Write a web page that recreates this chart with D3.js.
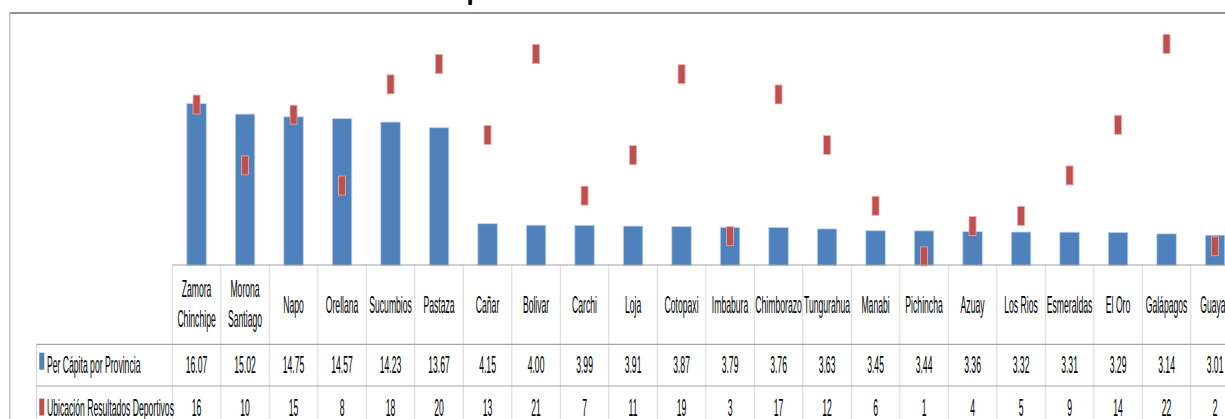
<!DOCTYPE html>
<html><head><meta charset="utf-8">
<script src="https://cdn.jsdelivr.net/npm/d3@7"></script>
<style>html,body{margin:0;padding:0;background:#fff;overflow:hidden}svg{display:block}</style>
</head><body><svg id="c" width="1225" height="419"></svg>
<script>
const categories = ["Zamora\nChinchipe","Morona\nSantiago","Napo","Orellana","Sucumbios","Pastaza","Cañar","Bolivar","Carchi","Loja","Cotopaxi","Imbabura","Chimborazo","Tungurahua","Manabi","Pichincha","Azuay","Los Rios","Esmeraldas","El Oro","Galápagos","Guayas"];
const perCapita = [16.07,15.02,14.75,14.57,14.23,13.67,4.15,4.00,3.99,3.91,3.87,3.79,3.76,3.63,3.45,3.44,3.36,3.32,3.31,3.29,3.14,3.01];
const ubicacion = [16,10,15,8,18,20,13,21,7,11,19,3,17,12,6,1,4,5,9,14,22,2];
const seriesNames = ["Per Cápita por Provincia","Ubicación Resultados Deportivos"];
const titleText = "Per Cápita vs Ubicación";

const svg = d3.select("#c");
const SX = 0.375, FS = 23, FONT = "Liberation Sans, Arial, sans-serif";
const blue = "#4F81BD", red = "#C0504D";

const x = d3.scaleBand().domain(categories).range([172.3, 172.3 + 48.5*categories.length]).padding(0);
const y1 = d3.scaleLinear().domain([0,25]).range([265.5,13.5]);
const y2 = d3.scaleLinear().domain([0,25]).range([266.5,13.5]);

// title (mostly above the visible area)
svg.append("text").attr("x",384).attr("y",-0.5).attr("font-family",FONT).attr("font-weight","bold")
  .attr("font-size",26).attr("fill","#000").text(titleText);

// chart frame
svg.append("line").attr("x1",9).attr("x2",1225).attr("y1",13).attr("y2",13).attr("stroke","#8f8f8f").attr("stroke-width",2);
svg.append("line").attr("x1",9.7).attr("x2",9.7).attr("y1",12).attr("y2",419).attr("stroke","#c4c4c4").attr("stroke-width",1.5);

// bars
const bw = 19.5;
svg.append("g").selectAll("rect").data(categories).join("rect")
  .attr("x",(d)=>x(d)+x.bandwidth()/2-bw/2)
  .attr("y",(d,i)=>y1(perCapita[i]))
  .attr("width",bw)
  .attr("height",(d,i)=>y1(0)-y1(perCapita[i]))
  .attr("fill",blue).attr("stroke","#c2d4ec").attr("stroke-width",0.8);

// markers
const mw = 7, mh = 19;
svg.append("g").selectAll("rect").data(categories).join("rect")
  .attr("x",(d)=>x(d)+x.bandwidth()/2-mw/2)
  .attr("y",(d,i)=>y2(ubicacion[i])-mh/2)
  .attr("width",mw).attr("height",mh)
  .attr("fill",red).attr("stroke","#e3aeac").attr("stroke-width",0.8);

// table grid
const tTop = 265, r1 = 344.3, r2 = 386, tBot = 430;
const g = svg.append("g");
const bounds = categories.map(c=>x(c)).concat([x.range()[1]]);
g.selectAll("line.v").data(bounds).join("line")
  .attr("x1",d=>d).attr("x2",d=>d).attr("y1",tTop).attr("y2",tBot)
  .attr("stroke","#d6d6d6").attr("stroke-width",1);
g.append("line").attr("x1",36.5).attr("x2",36.5).attr("y1",r1).attr("y2",tBot).attr("stroke","#d6d6d6");
g.append("line").attr("x1",172.3).attr("x2",1240).attr("y1",tTop).attr("y2",tTop).attr("stroke","#a3a3a3").attr("stroke-width",1.2);
[r1,r2].forEach(yy=>g.append("line").attr("x1",36.5).attr("x2",1240).attr("y1",yy).attr("y2",yy).attr("stroke","#a3a3a3").attr("stroke-width",1.2));

function sText(px,py,str,anchor){
  svg.append("g").attr("transform",`translate(${px},${py}) scale(${SX},1)`)
    .append("text").attr("x",0).attr("y",0).attr("text-anchor",anchor||"middle")
    .attr("font-family",FONT).attr("font-size",FS).attr("fill","#000").text(str);
}

// header labels
categories.forEach(c=>{
  const cx = x(c)+x.bandwidth()/2;
  const parts = c.split("\n");
  if(parts.length===2){ sText(cx,297.3,parts[0]); sText(cx,326.7,parts[1]); }
  else sText(cx,313.3,c);
});
// values
categories.forEach((c,i)=>{
  const cx = x(c)+x.bandwidth()/2;
  sText(cx,373.3,d3.format(".2f")(perCapita[i]));
  sText(cx,416,String(ubicacion[i]));
});
// legend
svg.append("rect").attr("x",39.3).attr("y",352.7).attr("width",5).attr("height",17).attr("fill",blue);
svg.append("rect").attr("x",39.3).attr("y",398.5).attr("width",5).attr("height",17).attr("fill",red);
sText(47,373.3,seriesNames[0],"start");
sText(47,416,seriesNames[1],"start");
</script></body></html>
